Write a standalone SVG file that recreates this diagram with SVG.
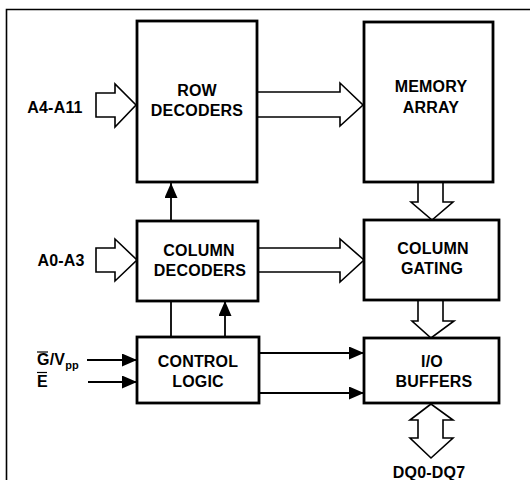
<svg xmlns="http://www.w3.org/2000/svg" width="530" height="480" viewBox="0 0 530 480">
<defs>
<style>
.box{fill:#fff;stroke:#000;stroke-width:2.8}
.ha{fill:#fff;stroke:#000;stroke-width:1.6;stroke-linejoin:miter}
.ln{fill:none;stroke:#000;stroke-width:1.8}
.t{font-family:"Liberation Sans",Arial,Helvetica,sans-serif;font-weight:bold;font-size:16px;fill:#000;text-anchor:middle;letter-spacing:0.2px}
.tl{text-anchor:start}
.frame{fill:none;stroke:#000;stroke-width:1.6}
</style>
<marker id="tri" viewBox="0 0 15 13" refX="15" refY="6.5" markerWidth="15" markerHeight="13" markerUnits="userSpaceOnUse" orient="auto">
<path d="M0,0 L15,6.5 L0,13 Z" fill="#000"/>
</marker>
</defs>
<rect width="530" height="480" fill="#fff"/>
<path class="frame" d="M6.5,480 L6.5,9.5 L530,9.5"/>

<g id="connectors">
<path class="ha" d="M96,93 L115,93 L115,84 L136,105 L115,127 L115,117 L96,117 Z"/>
<path class="ha" d="M258,92 L340,92 L340,83 L363,105 L340,126 L340,117 L258,117"/>
<path class="ha" d="M96,248 L115,248 L115,239 L137,260 L115,281 L115,272 L96,272 Z"/>
<path class="ha" d="M259,248 L340,248 L340,239 L364,260 L340,282 L340,272 L259,272"/>
<path class="ha" d="M418,183 L418,202 L411,202 L432,220 L453,202 L443,202 L443,183"/>
<path class="ha" d="M418,301 L418,321 L412,321 L431,338 L454,321 L443,321 L443,301"/>
<path class="ha" d="M431,404 L410,420 L418,420 L418,438 L410,438 L431,458 L453,438 L443,438 L443,420 L453,420 Z"/>
<line class="ln" x1="171" y1="221" x2="171" y2="183" marker-end="url(#tri)"/>
<line class="ln" x1="171" y1="301" x2="171" y2="337"/>
<line class="ln" x1="225" y1="337" x2="225" y2="301" marker-end="url(#tri)"/>
<line class="ln" x1="259" y1="353" x2="364" y2="353" marker-end="url(#tri)"/>
<line class="ln" x1="259" y1="393" x2="364" y2="393" marker-end="url(#tri)"/>
<line class="ln" x1="87" y1="360" x2="137" y2="360" marker-end="url(#tri)"/>
<line class="ln" x1="88" y1="382" x2="137" y2="382" marker-end="url(#tri)"/>
</g>

<g id="row-decoders">
<rect class="box" x="137" y="21" width="120" height="161"/>
<text class="t" x="197" y="96">ROW</text>
<text class="t" x="197" y="116">DECODERS</text>
</g>
<g id="memory-array">
<rect class="box" x="364" y="22" width="129" height="160"/>
<text class="t" x="431" y="92">MEMORY</text>
<text class="t" x="431" y="113">ARRAY</text>
</g>
<g id="column-decoders">
<rect class="box" x="137" y="221" width="121" height="80"/>
<text class="t" x="199" y="256">COLUMN</text>
<text class="t" x="200" y="276">DECODERS</text>
</g>
<g id="column-gating">
<rect class="box" x="364" y="220" width="135" height="80"/>
<text class="t" x="433" y="254">COLUMN</text>
<text class="t" x="432" y="274">GATING</text>
</g>
<g id="control-logic">
<rect class="box" x="137" y="337" width="122" height="66"/>
<text class="t" x="198" y="367">CONTROL</text>
<text class="t" x="198" y="387">LOGIC</text>
</g>
<g id="io-buffers">
<rect class="box" x="364" y="338" width="135" height="65"/>
<text class="t" x="432" y="367">I/O</text>
<text class="t" x="434" y="387">BUFFERS</text>
</g>

<g id="labels">
<text class="t" x="55" y="113">A4-A11</text>
<text class="t" x="61" y="266">A0-A3</text>
<text class="t tl" x="37" y="365">G/V<tspan font-size="11" dy="4">pp</tspan></text>
<line x1="37" y1="352" x2="48" y2="352" stroke="#000" stroke-width="1.2"/>
<text class="t tl" x="37" y="387">E</text>
<line x1="37" y1="372.5" x2="47" y2="372.5" stroke="#000" stroke-width="1.2"/>
<text class="t" x="429" y="478">DQ0-DQ7</text>
</g>
</svg>
